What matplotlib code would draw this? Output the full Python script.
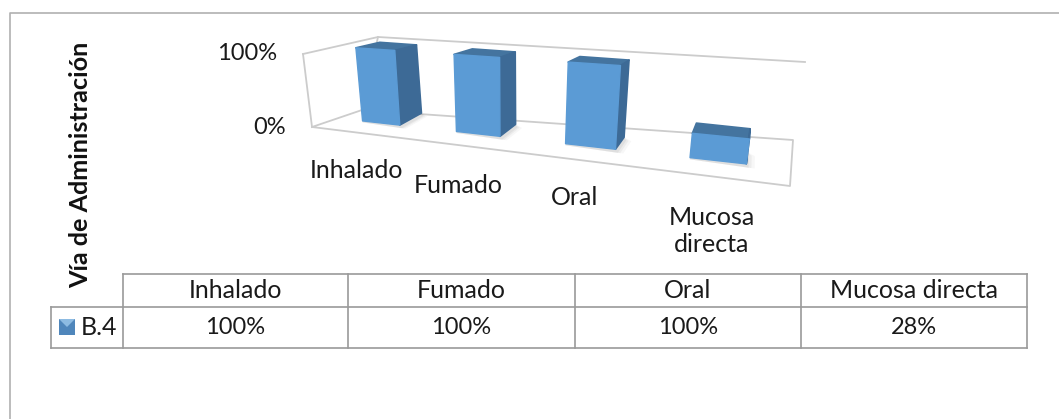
import matplotlib
matplotlib.use("Agg")
import matplotlib.pyplot as plt
from matplotlib.patches import Polygon

# === Données ===
categories = ["Inhalado", "Fumado", "Oral", "Mucosa directa"]
values = [100, 100, 100, 28]
series_name = "B.4"
axis_title = "Vía de Administración"
tick_labels = ["0%", "100%"]
tick_values = [0, 100]

plt.rcParams["font.family"] = ["Lato", "DejaVu Sans"]

FRONT = "#5B9BD5"
DARK = "#3D6A96"
TOP = "#44749F"
WALL = "#cccccc"
GRID = "#9a9a9a"
TXT = "#1a1a1a"

fig = plt.figure(figsize=(10.59, 4.19), dpi=100)
ax = fig.add_axes([0, 0, 1, 1])
ax.set_xlim(0, 1059)
ax.set_ylim(419, 0)
ax.axis("off")

# cadre du graphique
ax.plot([9.5, 9.5, 1059], [419, 13, 13], color="#b0b0b0", lw=1.2)

# === Projection de la boite 3D (t = categorie, d = profondeur, v = valeur/100) ===
def project(t, d, v):
    f = 0.0545 + 0.684 * t + 0.256 * t * t
    x0 = 312 + 478 * f
    y0 = 123 + 0.112 * (x0 - 381)
    x = x0 + d * (27 - 29 * f) + v * (-9 + 22 * f)
    y = y0 + d * (-12 + 6.5 * v) - v * (71 + 20 * f)
    return (x, y)

# === Parois ===
ax.plot([303, 378, 805], [54, 37, 62], color=WALL, lw=1.3)
ax.plot([303, 312], [54, 127], color=WALL, lw=1.3)
ax.plot([378, 362], [37, 110], color=WALL, lw=1.3)
ax.plot([312, 362, 793, 790, 312], [127, 110, 140, 186, 127], color=WALL, lw=1.3)

# === Barres ===
half = 0.052
depth = 1.0
for i, val in enumerate(values):
    t = (i + 0.5) / len(values)
    v = val / 100
    t0, t1 = t - half, t + half
    # ombre au sol, surtout vers la droite
    for grow, alpha in [(0.016, 0.05), (0.010, 0.07), (0.005, 0.09)]:
        shadow = [project(t0, 0, -0.02), project(t1 + grow, 0, -0.04),
                  project(t1 + grow, depth, -0.04), project(t1, depth, 0),
                  project(t1, 0, 0), project(t0, 0, 0)]
        ax.add_patch(Polygon(shadow, closed=True, fc="#666666", ec="none", alpha=alpha, zorder=2))
    top = [project(t0, 0, v), project(t1, 0, v), project(t1, depth, v), project(t0, depth, v)]
    side = [project(t1, 0, 0), project(t1, depth, 0), project(t1, depth, v), project(t1, 0, v)]
    face = [project(t0, 0, 0), project(t1, 0, 0), project(t1, 0, v), project(t0, 0, v)]
    ax.add_patch(Polygon(top, closed=True, fc=TOP, ec=TOP, lw=1.2, joinstyle="round", zorder=3))
    ax.add_patch(Polygon(side, closed=True, fc=DARK, ec=DARK, lw=1.2, joinstyle="round", zorder=3))
    ax.add_patch(Polygon(face, closed=True, fc=FRONT, ec=FRONT, lw=1.0, joinstyle="round", zorder=4))

# === Textes de l'axe ===
tick_xy = {0: (286, 127), 100: (277, 54)}
for lab, tv in zip(tick_labels, tick_values):
    ax.text(tick_xy[tv][0], tick_xy[tv][1], lab, ha="right", va="center", fontsize=17, color=TXT)

label_xy = [(356, 170), (458, 185), (575, 197), (712, 231)]
for cat, (x, y) in zip(categories, label_xy):
    ax.text(x, y, cat.replace(" ", "\n"), ha="center", va="center", fontsize=18,
            color=TXT, linespacing=1.25)

ax.text(81, 165, axis_title, rotation=90, ha="center", va="center", fontsize=18.2,
        fontweight="bold", color="#111111")

# === Table de donnees ===
col_x = [122.5, 348, 575, 801, 1027]
row_y = [274, 306.5, 348]
for x in col_x:
    ax.plot([x, x], [row_y[0], row_y[2]], color=GRID, lw=1.2)
ax.plot([col_x[0], col_x[-1]], [row_y[0], row_y[0]], color=GRID, lw=1.2)
ax.plot([50.5, col_x[-1]], [row_y[1], row_y[1]], color=GRID, lw=1.2)
ax.plot([50.5, col_x[-1]], [row_y[2], row_y[2]], color=GRID, lw=1.2)
ax.plot([50.5, 50.5], [row_y[1], row_y[2]], color=GRID, lw=1.2)

for i, (cat, val) in enumerate(zip(categories, values)):
    cx = (col_x[i] + col_x[i + 1]) / 2
    ax.text(cx, 290, cat, ha="center", va="center", fontsize=18, color=TXT)
    ax.text(cx, 327, f"{val}%", ha="center", va="center", fontsize=17, color=TXT)

# cle de legende
ax.add_patch(Polygon([(59, 319), (75, 319), (75, 335), (59, 335)], closed=True, fc="#4F86BB", ec="none"))
ax.add_patch(Polygon([(59, 319), (75, 319), (67, 327)], closed=True, fc="#8DBBE2", ec="none"))
ax.text(81, 327, series_name, ha="left", va="center", fontsize=18, color=TXT)

plt.savefig("out.png", dpi=100)
